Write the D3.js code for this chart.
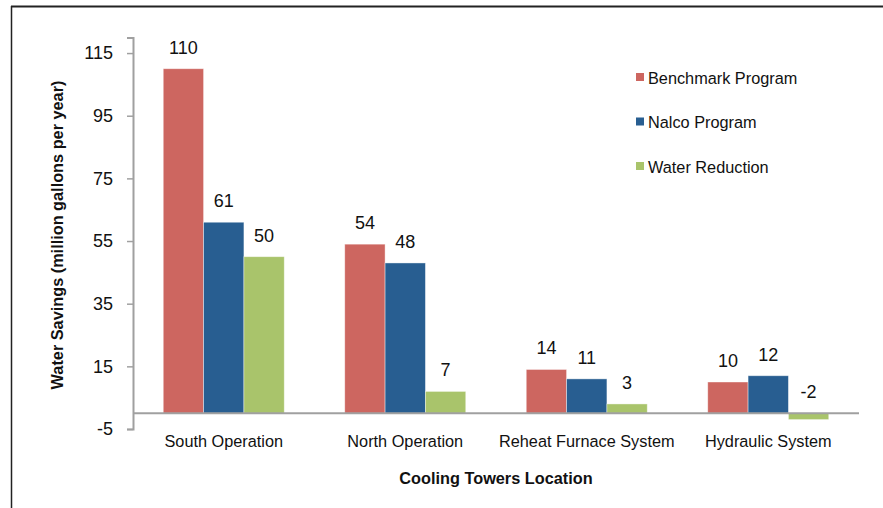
<!DOCTYPE html>
<html><head><meta charset="utf-8">
<script src="https://cdn.jsdelivr.net/npm/d3@7"></script>
<style>body{margin:0;background:#fff}svg{display:block;font-family:"Liberation Sans",Arial,sans-serif}</style>
</head><body><svg id="c" width="883" height="508"></svg>
<script>
const categories = ["South Operation","North Operation","Reheat Furnace System","Hydraulic System"];
const seriesNames = ["Benchmark Program","Nalco Program","Water Reduction"];
const benchmark = [110,54,14,10];
const nalco = [61,48,11,12];
const reduction = [50,7,3,-2];
const yTicks = [-5,15,35,55,75,95,115];
const colors = ["#CD6660","#285E91","#A9C46B"];
const seriesVals = [benchmark,nalco,reduction];
const FF = "Liberation Sans, Arial, sans-serif";

const svg = d3.select("#c");
// border
svg.append("line").attr("x1",11).attr("x2",883).attr("y1",6.5).attr("y2",6.5).attr("stroke","#222").attr("stroke-width",2);
svg.append("line").attr("x1",11.5).attr("x2",11.5).attr("y1",6).attr("y2",508).attr("stroke","#222").attr("stroke-width",1.5);

const x0 = d3.scaleBand().domain(categories).range([133,859]).paddingInner(0).paddingOuter(0);
const bw = x0.bandwidth()/4.5;
const y = d3.scaleLinear().domain([-5,120]).range([429,37.4]);

// y axis
const yAxis = d3.axisLeft(y).tickValues(yTicks).tickSize(6).tickPadding(14).tickFormat(d=>String(d));
const ga = svg.append("g").attr("transform","translate(133,0)").call(yAxis);
ga.attr("font-size",null).attr("font-family",null);
ga.select(".domain").attr("stroke","#a0a0a0").attr("stroke-width",2);
ga.selectAll(".tick line").attr("stroke","#a0a0a0").attr("stroke-width",1.5);
ga.selectAll(".tick text").style("font-size","18px").attr("fill","#111").style("font-family",FF);

// bars
categories.forEach((c,i)=>{
  seriesVals.forEach((vals,s)=>{
    const v = vals[i];
    const bx = x0(c) + 0.75*bw + s*bw;
    const top = Math.min(y(v),y(0)), h = Math.abs(y(v)-y(0));
    svg.append("rect").attr("x",bx).attr("y",top).attr("width",bw).attr("height",h)
      .attr("fill",colors[s]).attr("stroke","rgba(255,255,255,0.5)").attr("stroke-width",0.8);
    svg.append("text").attr("x",bx+bw/2).attr("y",Math.min(y(v),y(0))-15)
      .attr("text-anchor","middle").style("font-size","18px").attr("fill","#111").text(v);
  });
});

// x axis line
svg.append("line").attr("x1",133).attr("x2",859).attr("y1",y(0)).attr("y2",y(0)).attr("stroke","#a0a0a0").attr("stroke-width",2);
// category labels
const xAxis = d3.axisBottom(x0).tickSize(0).tickPadding(0);
const gx = svg.append("g").attr("transform","translate(0,435)").call(xAxis);
gx.attr("font-size",null).attr("font-family",null);
gx.select(".domain").remove();
gx.selectAll(".tick text").style("font-size","16.3px").attr("fill","#111").attr("dy","0.71em").style("font-family",FF);

// titles
svg.append("text").attr("x",496).attr("y",484).attr("text-anchor","middle").style("font-size","16.3px").attr("font-weight","bold").attr("fill","#111").text("Cooling Towers Location");
svg.append("text").attr("transform","translate(63,235) rotate(-90)").attr("text-anchor","middle").style("font-size","16.3px").attr("font-weight","bold").attr("fill","#111").text("Water Savings (million gallons per year)");

// legend
seriesNames.forEach((n,s)=>{
  const ly = 78 + s*44.5;
  svg.append("rect").attr("x",636).attr("y",ly-5).attr("width",8).attr("height",8).attr("fill",colors[s]);
  svg.append("text").attr("x",648).attr("y",ly+5.5).style("font-size","16.3px").attr("fill","#111").text(n);
});
</script></body></html>
